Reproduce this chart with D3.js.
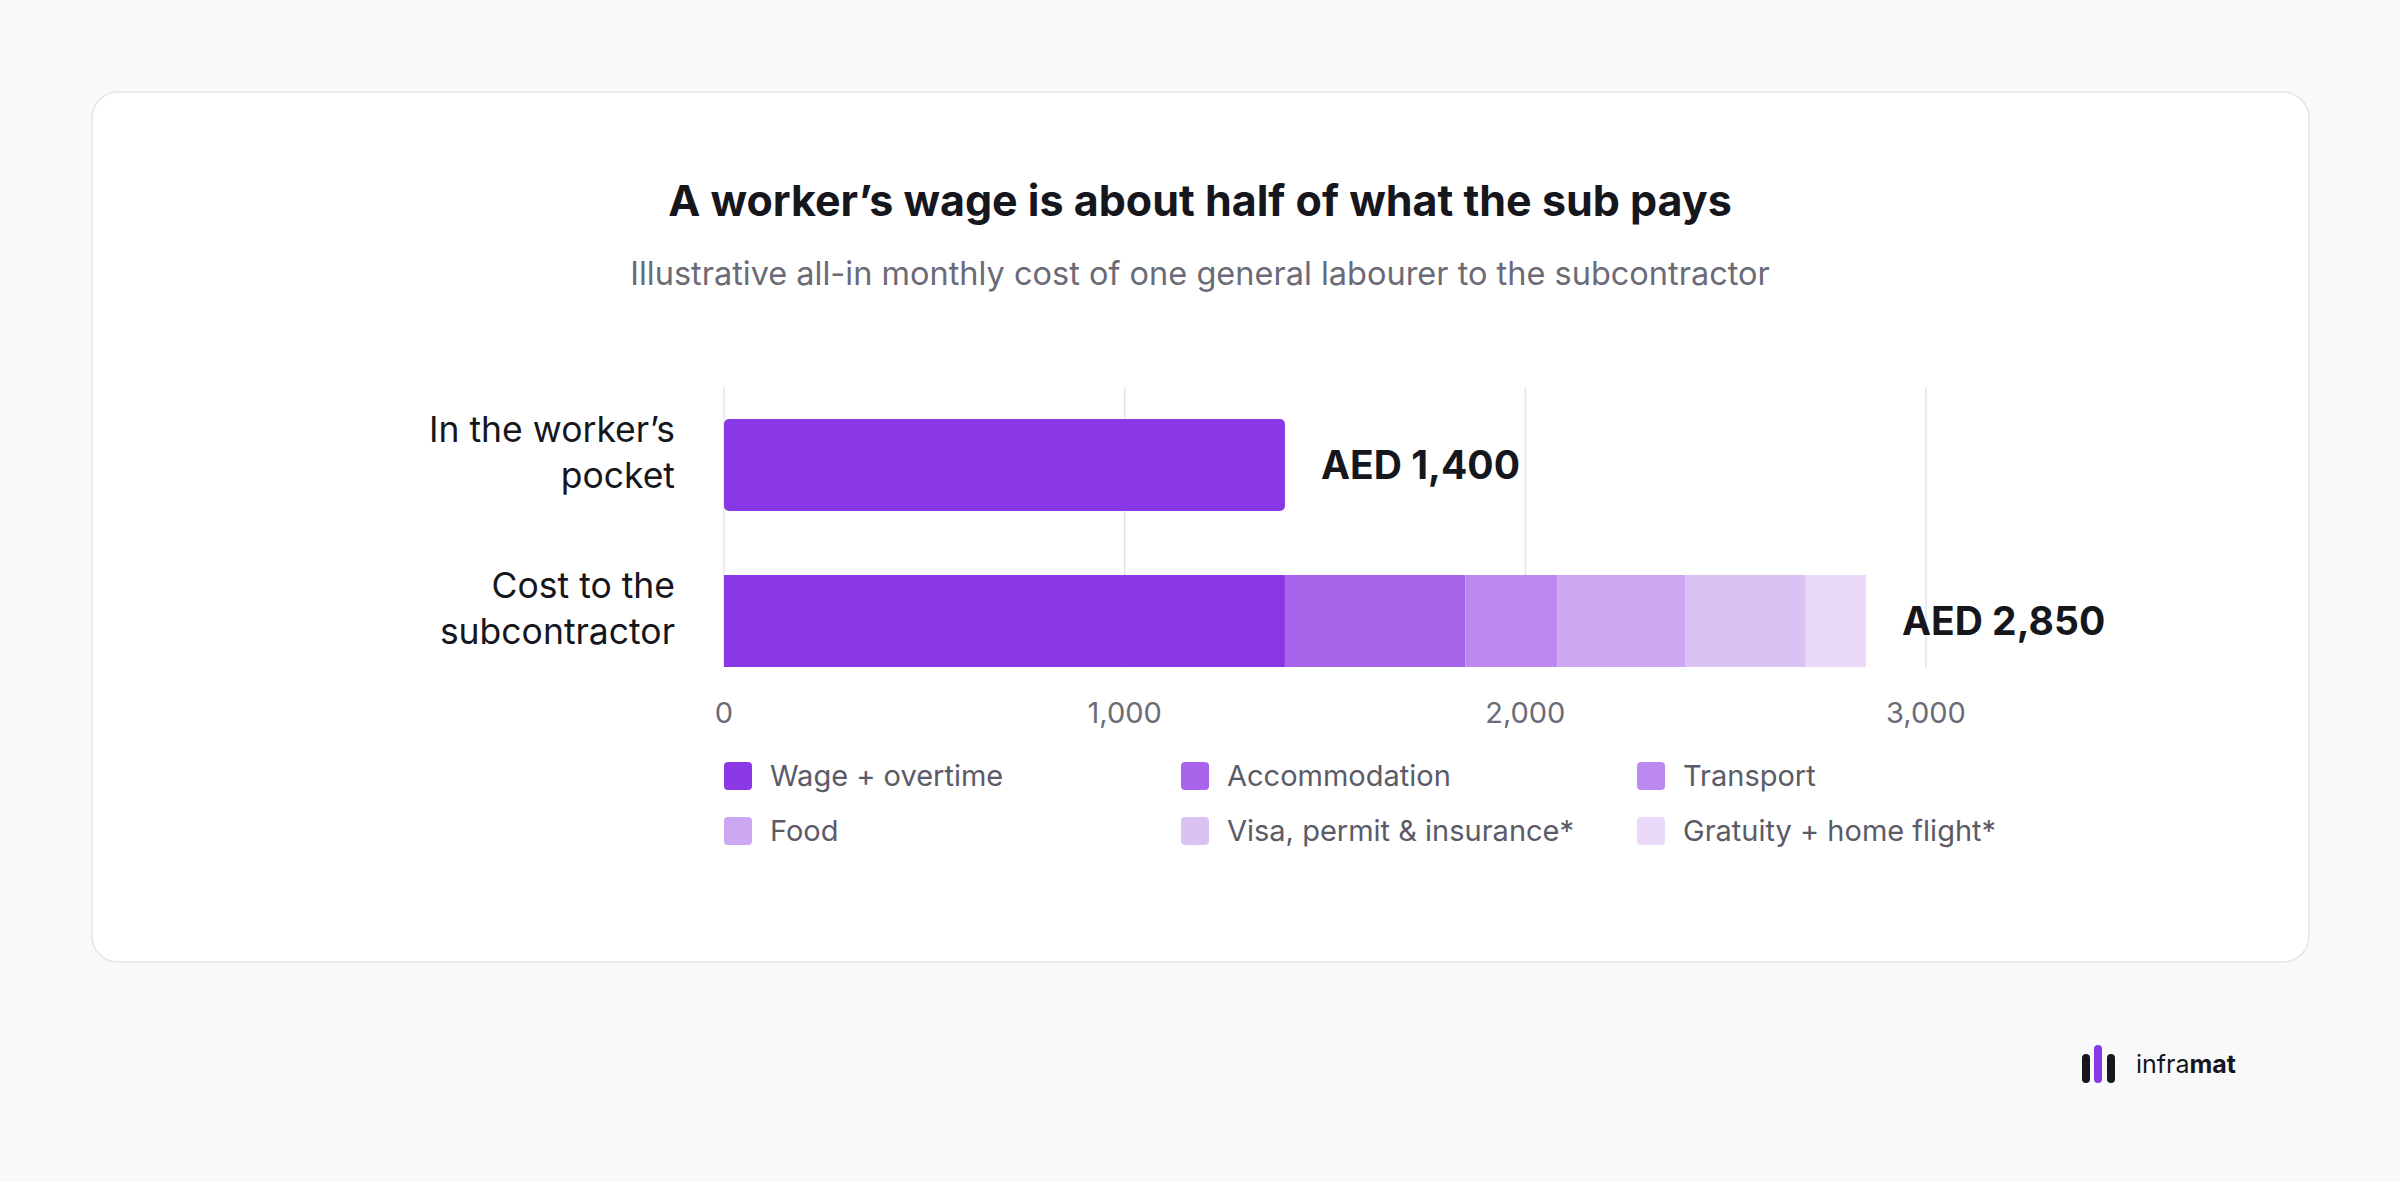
<!DOCTYPE html>
<html><head><meta charset="utf-8">
<script src="https://cdn.jsdelivr.net/npm/d3@7"></script>
<style>body{margin:0;background:#f9f9f9;font-family:Inter,sans-serif}</style>
</head><body><svg id="c" width="2400" height="1182"></svg>
<script>
const categories = ["In the worker’s pocket", "Cost to the subcontractor"];
const components = ["Wage + overtime","Accommodation","Transport","Food","Visa, permit & insurance*","Gratuity + home flight*"];
const pocketValues = [1400];
const costValues = [1400, 450, 230, 320, 300, 150];
const totals = [1400, 2850];
const ticks = [0, 1000, 2000, 3000];
const colors = ["#8a38e5","#a865ec","#bb89ef","#cda8f2","#dbc2f5","#ead9f9"];

const svg = d3.select("#c");
svg.append("rect").attr("x",92).attr("y",92).attr("width",2217).attr("height",870).attr("rx",26)
  .attr("fill","#fff").attr("stroke","#e6e6e8").attr("stroke-width",1.5);
svg.append("text").attr("x",1200).attr("y",216).attr("text-anchor","middle").attr("font-size",43)
  .attr("font-weight",700).attr("fill","#16161d").text("A worker’s wage is about half of what the sub pays");
svg.append("text").attr("x",1200).attr("y",285).attr("text-anchor","middle").attr("font-size",32.5)
  .attr("fill","#6b6b78").text("Illustrative all-in monthly cost of one general labourer to the subcontractor");

const x = d3.scaleLinear().domain([0,3000]).range([724,1926]);

ticks.forEach(t=>{
  svg.append("line").attr("x1",x(t)).attr("x2",x(t)).attr("y1",387).attr("y2",668).attr("stroke","#e4e4e8").attr("stroke-width",1.5);
  svg.append("text").attr("x",x(t)).attr("y",723).attr("text-anchor","middle").attr("font-size",29).attr("fill","#6b6b78").text(d3.format(",")(t));
});

const h = 92;
const yc = [465, 621];
svg.append("rect").attr("x",x(0)).attr("y",yc[0]-h/2).attr("width",x(pocketValues[0])-x(0)).attr("height",h).attr("rx",5).attr("fill",colors[0]);
let acc=0;
costValues.forEach((v,i)=>{
  svg.append("rect").attr("x",x(acc)).attr("y",yc[1]-h/2).attr("width",x(acc+v)-x(acc)).attr("height",h).attr("fill",colors[i]);
  acc+=v;
});
totals.forEach((t,i)=>{
  svg.append("text").attr("x",x(t)+36).attr("y",yc[i]+14).attr("font-size",39).attr("font-weight",700).attr("fill","#16161d").text("AED "+d3.format(",")(t));
});
const lab = [["In the worker’s","pocket"],["Cost to the","subcontractor"]];
lab.forEach((l,i)=>{
  l.forEach((s,j)=>svg.append("text").attr("x",675).attr("y",yc[i]-23+j*46).attr("text-anchor","end").attr("font-size",35.5).attr("fill","#16161d").text(s));
});
components.forEach((c,i)=>{
  const cx=[724,1181,1637][i%3], cy=[776,831][Math.floor(i/3)];
  svg.append("rect").attr("x",cx).attr("y",cy-14).attr("width",28).attr("height",28).attr("rx",4).attr("fill",colors[i]);
  svg.append("text").attr("x",cx+46).attr("y",cy+10).attr("font-size",29).attr("fill","#5b5b68").text(c);
});
// logo
const lg = svg.append("g");
[[2082,"#16161d",1054],[2094,"#8a38e5",1045],[2107,"#16161d",1054]].forEach(([lx,c,ty])=>{
  lg.append("rect").attr("x",lx).attr("y",ty).attr("width",8).attr("height",1083-ty).attr("rx",4).attr("fill",c);
});
const lt = svg.append("text").attr("x",2136).attr("y",1073).attr("font-size",25).attr("fill","#16161d");
lt.append("tspan").text("infra");
lt.append("tspan").attr("font-weight",700).text("mat");
</script></body></html>
